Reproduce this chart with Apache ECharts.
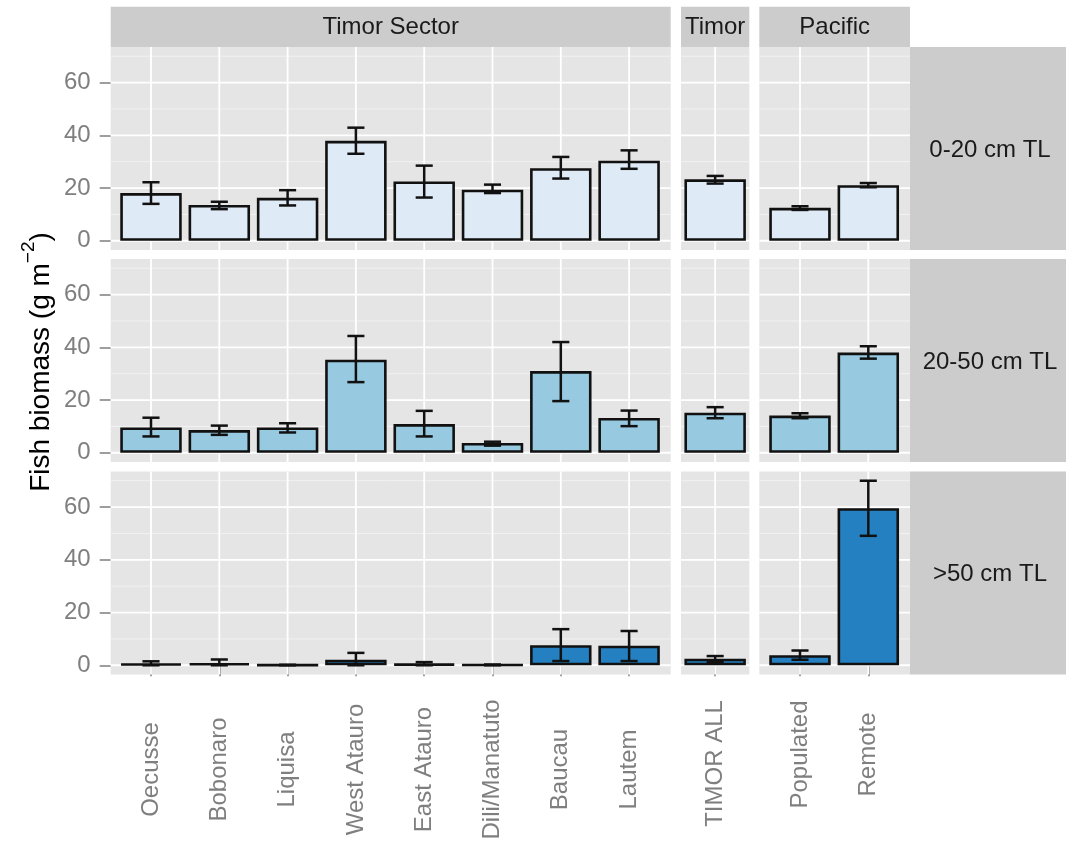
<!DOCTYPE html>
<html><head><meta charset="utf-8">
<script src="https://cdn.jsdelivr.net/npm/echarts@6/dist/echarts.min.js"></script>
<style>html,body{margin:0;padding:0;background:#fff}#c{width:1066px;height:845px}</style>
</head><body><div id="c"></div>
<script>
// ---------- data ----------
const sectorSites = ['Oecusse','Bobonaro','Liquisa','West Atauro','East Atauro','Dili/Manatuto','Baucau','Lautem'];
const timorSites = ['TIMOR ALL'];
const pacificSites = ['Populated','Remote'];
const panelTitles = ['Timor Sector','Timor','Pacific'];
const sizeClasses = ['0-20 cm TL','20-50 cm TL','>50 cm TL'];
const yTickValues = [0,20,40,60];
const gridValues = [0,10,20,30,40,50,60,70];
const yTitle = 'Fish biomass (g m';
const yTitleSup = '−2';

// values in site order: 8 sector sites, TIMOR ALL, Populated, Remote
const mean0_20  = [18.1,13.6,16.3,37.9,22.5,19.4,27.5,30.4, 23.3, 12.5,21.1];
const lower0_20 = [14.0,12.0,13.4,33.0,16.4,18.1,23.6,27.3, 21.7, 11.7,20.3];
const upper0_20 = [22.2,14.8,19.2,42.9,28.5,21.3,31.8,34.3, 24.6, 13.1,21.9];

const mean20_50  = [9.6,8.6,9.6,35.3,10.9,3.7,31.0,13.2, 15.2, 14.1,38.0];
const lower20_50 = [6.2,6.8,7.7,26.8,6.2,2.7,19.6,10.1, 13.1, 13.1,35.7];
const upper20_50 = [13.3,10.3,11.2,44.3,15.9,4.2,42.0,16.0, 17.3, 15.0,40.4];

const mean50  = [0.6,0.8,0.1,2.1,0.5,0.2,7.6,7.4, 2.5, 3.8,59.6];
const lower50 = [0.0,0.0,0.0,0.0,0.0,0.0,1.6,1.6, 1.3, 2.1,49.1];
const upper50 = [1.5,2.2,0.2,4.7,1.2,0.3,13.7,13.0, 3.5, 5.6,70.0];

// ---------- layout / style ----------
const groups = [sectorSites, timorSites, pacificSites];
const means = [mean0_20, mean20_50, mean50];
const lowers = [lower0_20, lower20_50, lower50];
const uppers = [upper0_20, upper20_50, upper50];
const fills = ['#DEEAF6','#97C9E1','#2480C0'];
const FONT = '"Liberation Sans", Arial, Helvetica, sans-serif';
const Y_MIN = -3.5, Y_MAX = 73.5;
const panelX = [[110.7,670.7],[681,749.3],[759.3,910]];
const bandX  = [[116.85,663.25],[681,749.3],[765.85,902.45]];
const rowY   = [[47,250],[259,462],[471.5,674.5]];
const labelMargin = [95, 89, 80];
const STRIP_TOP = 6.7, STRIP_BOT = 47;
const RIGHT_STRIP = [910, 1066];

const grid = [], xAxis = [], yAxis = [], series = [];
function yPix(r, v) {
  const [t, b] = rowY[r];
  return b - (v - Y_MIN) / (Y_MAX - Y_MIN) * (b - t);
}

for (let r = 0; r < 3; r++) {
  let offset = 0;
  for (let c = 0; c < 3; c++) {
    const cats = groups[c];
    const n = cats.length;
    const [t, b] = rowY[r];
    // panel grid (background + horizontal gridlines)
    const pi = grid.length;
    grid.push({left: panelX[c][0], top: t, width: panelX[c][1] - panelX[c][0], height: b - t,
      show: true, backgroundColor: '#E5E5E5', borderWidth: 0});
    xAxis.push({gridIndex: pi, type: 'value', min: 0, max: 1, show: false});
    yAxis.push({gridIndex: pi, type: 'value', min: Y_MIN, max: Y_MAX, show: false});
    series.push({type: 'custom', xAxisIndex: pi, yAxisIndex: pi, z: 1, silent: true,
      data: gridValues.map(v => [0, v]),
      renderItem: function (params, api) {
        const cs = params.coordSys;
        const v = api.value(1);
        const y = api.coord([0, v])[1];
        const major = v % 20 === 0;
        return {type: 'line', shape: {x1: cs.x, y1: y, x2: cs.x + cs.width, y2: y},
          style: {stroke: major ? '#FFFFFF' : '#F2F2F2', lineWidth: major ? 1.8 : 1}};
      }});
    // data grid
    const di = grid.length;
    grid.push({left: bandX[c][0], top: t, width: bandX[c][1] - bandX[c][0], height: b - t, show: false});
    const bottomRow = r === 2;
    xAxis.push({gridIndex: di, type: 'category', data: cats, boundaryGap: true,
      axisLine: {show: false}, splitLine: {show: false},
      axisTick: {show: bottomRow, alignWithLabel: true, length: 11, lineStyle: {color: '#7F7F7F', width: 1.5}},
      axisLabel: {show: bottomRow, interval: 0, rotate: 90, align: 'center', margin: labelMargin[c],
        color: '#7F7F7F', fontSize: 24, fontFamily: FONT}});
    yAxis.push({gridIndex: di, type: 'value', min: Y_MIN, max: Y_MAX, show: false});
    // vertical gridlines at categories
    series.push({type: 'custom', xAxisIndex: di, yAxisIndex: di, z: 1, silent: true,
      data: cats.map((_, i) => [i, 0]),
      renderItem: function (params, api) {
        const cs = params.coordSys;
        const x = api.coord([api.value(0), 0])[0];
        return {type: 'line', shape: {x1: x, y1: cs.y, x2: x, y2: cs.y + cs.height},
          style: {stroke: '#FFFFFF', lineWidth: 1.8}};
      }});
    const m = means[r].slice(offset, offset + n);
    const lo = lowers[r].slice(offset, offset + n);
    const hi = uppers[r].slice(offset, offset + n);
    series.push({type: 'bar', xAxisIndex: di, yAxisIndex: di, z: 2, data: m, barWidth: '90%',
      itemStyle: {color: fills[r], borderColor: '#111111', borderWidth: 2.6}});
    series.push({type: 'custom', xAxisIndex: di, yAxisIndex: di, z: 3,
      data: m.map((_, i) => [i, lo[i], hi[i]]),
      renderItem: function (params, api) {
        const i = api.value(0);
        const pLo = api.coord([i, api.value(1)]);
        const pHi = api.coord([i, api.value(2)]);
        const half = api.size([1, 0])[0] * 0.125;
        const st = {stroke: '#111111', lineWidth: 2.5};
        return {type: 'group', children: [
          {type: 'line', shape: {x1: pLo[0], y1: pLo[1], x2: pHi[0], y2: pHi[1]}, style: st},
          {type: 'line', shape: {x1: pHi[0] - half, y1: pHi[1], x2: pHi[0] + half, y2: pHi[1]}, style: st},
          {type: 'line', shape: {x1: pLo[0] - half, y1: pLo[1], x2: pLo[0] + half, y2: pLo[1]}, style: st}
        ]};
      }});
    offset += n;
  }
  // tick-label axis (left column)
  const ti = grid.length;
  const y60 = yPix(r, 60), y0 = yPix(r, 0);
  grid.push({left: panelX[0][0], top: y60, width: panelX[0][1] - panelX[0][0], height: y0 - y60, show: false});
  xAxis.push({gridIndex: ti, type: 'value', min: 0, max: 1, show: false});
  yAxis.push({gridIndex: ti, type: 'value', min: yTickValues[0], max: yTickValues[yTickValues.length - 1],
    interval: yTickValues[1] - yTickValues[0],
    axisLine: {show: false}, splitLine: {show: false},
    axisTick: {show: true, length: 11, lineStyle: {color: '#7F7F7F', width: 1.5}},
    axisLabel: {margin: 20, color: '#7F7F7F', fontSize: 24, fontFamily: FONT}});
}

// strips
const graphic = [];
for (let c = 0; c < 3; c++) {
  graphic.push({type: 'rect', shape: {x: panelX[c][0], y: STRIP_TOP, width: panelX[c][1] - panelX[c][0], height: STRIP_BOT - STRIP_TOP},
    style: {fill: '#CCCCCC'}, silent: true});
  graphic.push({type: 'text', x: (panelX[c][0] + panelX[c][1]) / 2, y: (STRIP_TOP + STRIP_BOT) / 2 + 1,
    style: {text: panelTitles[c], fill: '#1A1A1A', fontSize: 24, fontFamily: FONT, align: 'center', verticalAlign: 'middle'}, silent: true});
}
for (let r = 0; r < 3; r++) {
  graphic.push({type: 'rect', shape: {x: RIGHT_STRIP[0], y: rowY[r][0], width: RIGHT_STRIP[1] - RIGHT_STRIP[0], height: rowY[r][1] - rowY[r][0]},
    style: {fill: '#CCCCCC'}, silent: true});
  graphic.push({type: 'text', x: (RIGHT_STRIP[0] + RIGHT_STRIP[1]) / 2 + 2, y: (rowY[r][0] + rowY[r][1]) / 2 + 1.5,
    style: {text: sizeClasses[r], fill: '#1A1A1A', fontSize: 24, fontFamily: FONT, align: 'center', verticalAlign: 'middle'}, silent: true});
}
graphic.push({type: 'text', x: 37, y: 362, rotation: Math.PI / 2,
  style: {text: '{a|' + yTitle + '}{s|' + yTitleSup + '}{a|)}', fill: '#000', fontFamily: FONT, fontSize: 28,
    align: 'center', verticalAlign: 'middle',
    rich: {a: {fontSize: 28, fontFamily: FONT, fill: '#000', lineHeight: 36, verticalAlign: 'bottom'},
           s: {fontSize: 19, fontFamily: FONT, fill: '#000', lineHeight: 36, verticalAlign: 'top'}}}, silent: true});

const chart = echarts.init(document.getElementById('c'), null, {renderer: 'canvas'});
chart.setOption({backgroundColor: '#FFFFFF', animation: false, grid, xAxis, yAxis, series, graphic});
</script>
</body></html>
